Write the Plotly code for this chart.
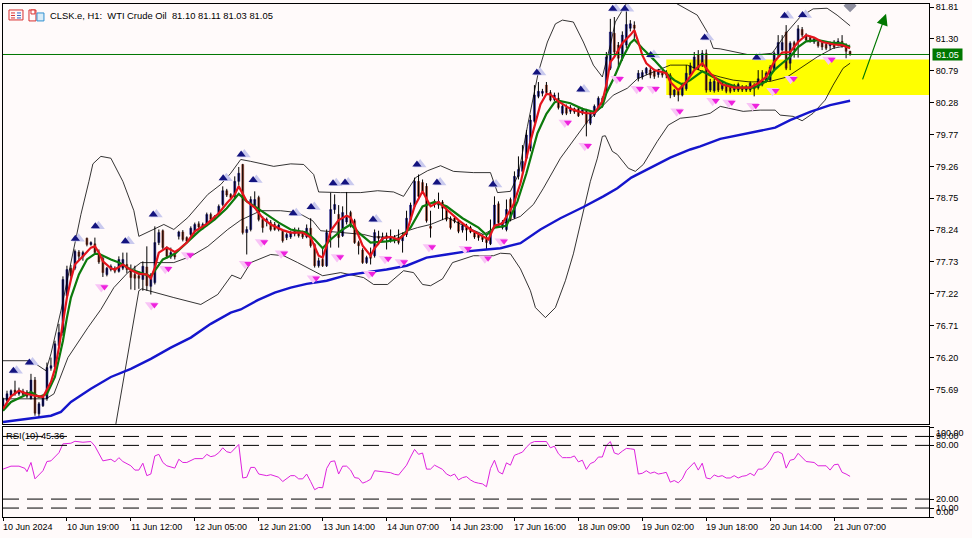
import plotly.graph_objects as go
from plotly.subplots import make_subplots

opens = [75.41,75.51,75.59,75.68,75.62,75.66,75.65,75.54,75.84,75.30,
75.43,75.54,76.03,76.05,76.39,76.60,77.19,77.63,77.63,77.89,
77.81,78.11,78.01,78.02,77.84,77.79,77.53,77.61,77.63,77.58,
77.63,77.69,77.61,77.53,77.51,77.45,77.65,77.34,77.40,78.04,
78.23,77.96,77.81,77.85,78.14,78.21,78.12,78.17,78.22,78.34,
78.28,78.33,78.49,78.42,78.49,78.65,78.87,78.81,78.78,79.02,
79.29,78.20,78.25,78.61,78.76,78.41,78.37,78.36,78.33,78.25,
78.22,78.12,78.13,78.18,78.20,78.20,78.13,78.27,78.01,77.67,
77.77,77.67,78.20,78.57,78.49,78.15,78.37,78.52,78.39,78.04,
77.92,77.72,77.84,77.83,78.14,78.09,78.15,78.08,78.07,78.13,
78.07,78.17,78.41,78.62,79.02,79.00,78.94,78.30,78.65,78.64,
78.69,78.57,78.43,78.43,78.38,78.24,78.31,78.28,78.20,78.17,
78.14,78.13,78.02,78.30,78.66,78.28,78.25,78.73,78.44,79.10,
79.18,79.39,79.55,79.98,80.38,80.43,80.56,80.44,80.33,80.35,
80.11,80.20,80.14,80.18,80.18,80.11,80.14,79.95,80.08,80.19,
80.35,80.46,80.83,81.39,81.20,80.99,81.20,81.47,81.52,80.67,
80.69,80.75,80.80,80.78,80.73,80.77,80.77,80.72,80.40,80.46,
80.40,80.50,80.72,80.83,81.04,80.88,81.07,80.48,80.47,80.61,
80.50,80.56,80.53,80.48,80.48,80.53,80.48,80.48,80.56,80.52,
80.64,80.62,80.64,80.80,81.04,81.12,81.41,80.91,81.24,81.25,
81.45,81.36,81.32,81.25,81.25,81.24,81.21,81.19,81.25,81.21,
81.26,81.20,81.10]
closes = [75.54,75.62,75.67,75.62,75.68,75.61,75.58,75.84,75.31,75.46,
75.57,76.04,76.07,76.42,76.60,77.45,77.61,77.51,77.90,77.82,
77.88,78.01,78.04,77.88,77.73,77.56,77.63,77.66,77.58,77.77,
77.77,77.61,77.48,77.47,77.47,77.66,77.35,77.50,78.04,78.20,
77.96,77.82,77.88,77.81,78.21,78.09,78.06,78.27,78.33,78.29,
78.33,78.49,78.41,78.46,78.62,78.87,78.80,78.76,79.02,79.15,
78.20,78.25,78.73,78.73,78.41,78.28,78.41,78.25,78.25,78.32,
78.07,78.17,78.20,78.22,78.15,78.13,78.27,77.99,77.67,77.75,
77.67,78.20,78.57,78.65,78.12,78.52,78.44,78.31,78.04,77.99,
77.72,77.80,77.79,78.20,78.11,78.13,78.11,78.12,78.10,78.04,
78.15,78.43,78.64,79.02,78.78,78.86,78.39,78.27,78.68,78.70,
78.59,78.41,78.28,78.38,78.22,78.31,78.24,78.21,78.13,78.12,
78.09,78.04,78.20,78.64,78.36,78.37,78.57,78.41,79.10,79.21,
79.34,79.76,80.00,80.40,80.46,80.46,80.44,80.32,80.40,80.20,
80.22,80.11,80.20,80.13,80.07,80.16,79.95,80.11,80.22,80.35,
80.24,81.01,81.41,81.09,80.99,81.36,81.53,81.54,81.47,80.75,
80.76,80.83,80.72,80.70,80.78,80.72,80.72,80.40,80.48,80.40,
80.56,80.75,80.87,81.01,80.83,81.07,80.48,80.61,80.62,80.48,
80.59,80.46,80.46,80.55,80.57,80.48,80.53,80.59,80.50,80.66,
80.56,80.75,80.85,81.07,81.24,81.24,80.83,81.23,81.12,81.46,
81.36,81.28,81.26,81.30,81.19,81.17,81.15,81.24,81.17,81.26,
81.20,81.10,81.05]
highs = [75.56,75.67,75.69,75.83,75.72,75.70,75.68,75.94,75.89,75.49,
75.60,76.12,76.20,76.47,76.74,77.50,77.67,77.68,77.93,77.92,
77.91,78.12,78.06,78.12,77.93,77.82,77.65,77.69,77.66,77.82,
77.88,77.88,77.69,77.67,77.58,77.74,77.98,77.55,78.30,78.25,
78.25,77.98,77.96,77.90,78.23,78.24,78.14,78.30,78.36,78.38,
78.36,78.52,78.52,78.48,78.65,78.94,78.90,78.83,79.10,79.25,
79.30,78.30,78.78,78.86,78.79,78.46,78.44,78.40,78.37,78.34,
78.25,78.20,78.23,78.28,78.28,78.23,78.33,78.43,78.03,77.80,
77.96,78.25,78.84,78.81,78.64,78.62,78.85,78.55,78.42,78.07,
77.95,77.83,77.96,78.25,78.23,78.20,78.20,78.25,78.16,78.25,
78.20,78.55,78.68,79.08,79.13,79.05,78.99,78.55,78.73,78.84,
78.72,78.60,78.46,78.46,78.40,78.34,78.34,78.31,78.22,78.19,
78.17,78.16,78.41,78.78,78.70,78.40,78.73,78.76,79.18,79.42,
79.60,79.84,80.08,80.56,80.61,80.50,80.61,80.48,80.44,80.44,
80.28,80.25,80.24,80.20,80.22,80.20,80.18,80.15,80.25,80.38,
80.38,81.09,81.62,81.65,81.25,81.42,81.78,81.60,81.58,80.80,
80.80,80.85,80.85,80.82,80.82,80.80,80.80,80.75,80.50,80.50,
80.60,80.88,80.92,81.09,81.12,81.12,81.13,80.66,80.66,80.65,
80.63,80.59,80.56,80.58,80.60,80.56,80.56,80.62,80.59,80.80,
80.80,80.78,80.88,81.10,81.36,81.36,81.52,81.26,81.27,81.52,
81.49,81.39,81.35,81.33,81.28,81.26,81.24,81.26,81.28,81.31,
81.36,81.23,81.11]
lows = [75.38,75.46,75.56,75.59,75.59,75.58,75.55,75.53,75.27,75.24,
75.41,75.51,75.99,76.02,76.35,76.55,77.15,77.45,77.60,77.76,
77.75,77.98,77.99,77.85,77.70,77.49,77.50,77.58,77.55,77.56,
77.60,77.55,77.29,77.28,77.30,77.27,77.27,77.21,77.37,78.00,
77.93,77.78,77.78,77.77,78.09,78.06,78.04,78.14,78.18,78.26,
78.25,78.30,78.38,78.40,78.47,78.62,78.77,78.73,78.75,78.95,
78.17,77.85,78.22,78.58,78.38,78.20,78.30,78.22,78.23,78.22,
78.04,78.08,78.10,78.14,78.12,78.10,78.11,77.96,77.64,77.64,
77.65,77.65,77.96,78.50,77.96,78.13,78.33,78.28,78.02,77.85,
77.70,77.70,77.69,77.80,78.00,78.05,77.93,78.04,78.03,78.01,
77.88,78.13,78.38,78.58,78.72,78.82,78.36,78.12,78.60,78.58,
78.40,78.38,78.25,78.35,78.19,78.20,78.07,78.19,78.10,78.07,
78.05,77.93,78.00,78.27,78.33,78.25,78.22,78.38,78.42,79.05,
79.12,79.35,79.50,79.95,80.35,80.38,80.40,80.30,80.30,80.17,
80.08,80.08,80.10,80.10,80.05,80.08,79.74,79.92,80.05,80.16,
80.20,80.43,80.80,81.00,80.85,80.95,81.15,81.42,81.30,80.62,
80.65,80.72,80.67,80.66,80.68,80.68,80.67,80.35,80.37,80.30,
80.38,80.47,80.70,80.80,80.80,80.85,80.44,80.45,80.44,80.45,
80.47,80.43,80.43,80.45,80.45,80.45,80.45,80.45,80.38,80.49,
80.54,80.60,80.62,80.78,81.00,81.10,80.80,80.80,81.00,81.00,
81.33,81.25,81.24,81.22,81.16,81.12,81.12,81.12,81.14,81.18,
81.16,80.99,81.03]

red_bars = [0,2,4,6,8,10,12,13,14,15,16,17,18,20,22,23,24,25,27,28,30,32,34,36,37,38,39,41,43,44,46,48,51,54,56,58,59,
61,63,65,67,70,72,75,77,79,80,81,82,84,86,87,88,90,92,93,95,97,99,101,103,105,107,109,111,114,117,120,121.5,123,125,127.75,129.5,132,134.5,136,
137,139,142,144,146,148,150,151,152,153,155,157,158,159,160,161,163,166,167,169,171,173,175,177,179,180,183,187,189,191,193,195,197,199,201,203,205,208,210,212]
red_vals = [75.38,75.58,75.67,75.62,75.59,75.57,75.81,76.02,76.36,76.74,77.16,77.45,77.69,77.82,77.96,77.98,77.88,77.74,77.63,77.61,77.69,77.60,77.54,77.53,77.47,77.64,77.88,77.96,77.89,77.93,78.04,78.22,78.34,78.51,78.67,78.81,78.94,
78.70,78.60,78.43,78.33,78.24,78.20,78.20,78.12,77.83,77.80,77.99,78.23,78.40,78.47,78.44,78.31,77.99,77.83,77.95,78.11,78.13,78.09,78.20,78.62,78.86,78.62,78.69,78.57,78.40,78.25,78.15,78.09,78.31,78.35,78.65,78.99,79.66,80.25,80.42,
80.41,80.30,80.18,80.14,80.11,80.11,80.30,80.56,80.93,81.01,81.23,81.36,81.44,81.25,81.04,80.91,80.80,80.75,80.61,80.48,80.61,80.80,80.91,80.75,80.62,80.57,80.52,80.52,80.59,80.69,80.93,81.08,81.09,81.25,81.36,81.32,81.25,81.21,81.20,81.15]
green_bars = [0,2,5,7,9,11,13,15,16,17,19,21,23,24,27,29,32,34,37,38,40,43,46,49,53,56,59,
61,63,66,69,72,76,78,80,82,85,87,89,92,96,99,102,105,108,111,115,119,121,123,126,128.75,131,133.75,136,138,
139,142,145,148,150,151,153,155,157,158,160,163,166,168,170,172,175,178,181,184,188,191,193,195,197,199,201,204,207,210,212]
green_vals = [75.35,75.49,75.58,75.65,75.57,75.62,75.89,76.47,76.84,77.16,77.53,77.77,77.86,77.86,77.77,77.72,77.61,77.57,77.50,77.59,77.77,77.86,78.04,78.22,78.41,78.59,78.82,
78.70,78.62,78.49,78.36,78.25,78.20,78.09,77.95,78.09,78.25,78.33,78.20,78.04,78.06,78.09,78.28,78.62,78.69,78.62,78.43,78.28,78.16,78.28,78.31,78.70,79.15,79.79,80.10,80.28,
80.31,80.27,80.18,80.13,80.22,80.43,80.69,80.99,81.23,81.29,81.15,80.96,80.75,80.64,80.57,80.64,80.78,80.68,80.59,80.52,80.52,80.62,80.80,80.91,81.01,81.17,81.26,81.28,81.24,81.23,81.17]
blue_bars = [0,12,14.5,17,22,27,32,37,42,47,52,57,59.5,63.75,68,72,76,81,86,91,96,101,106,111,116,121,124.5,129.5,134.5,139.5,145.25,150.25,153.75,157.25,167,172,174.5,179.5,184.5,189.5,193.25,197,202,207,212]
blue_vals = [75.17,75.27,75.33,75.49,75.70,75.89,76.02,76.18,76.36,76.52,76.74,76.92,76.97,77.12,77.24,77.32,77.38,77.43,77.52,77.56,77.61,77.67,77.80,77.85,77.90,77.93,77.95,78.03,78.25,78.43,78.61,78.78,78.91,79.08,79.40,79.53,79.58,79.70,79.77,79.83,79.88,80.00,80.13,80.24,80.31]

upper_bars = [0,3,7,10.75,12,14.5,17.5,19.5,21.5,22.5,24.5,27,30,32.75,34,38.75,40.25,42.75,46.25,51.25,54.5,57,59.5,62,67.75,72,75.25,77.75,79,84.5,89.5,93.75,97.75,100.25,103.25,106.25,109.5,112.75,117.75,122,123.75,127,129,131.25,134,136.25,138.25,140,142.75,145.25,147.75,150,152,153.25,156.25,162,169.5,173.75,176.25,177.75,179.5,182.75,186.25,189.5,192.5,196.25,199.5,202.75,206.25,208.75,212]
upper_vals = [76.15,76.15,76.15,75.99,76.26,76.95,77.90,78.49,79.02,79.30,79.42,79.39,79.02,78.55,78.14,78.28,78.33,78.25,78.44,78.81,78.97,79.15,79.37,79.34,79.26,79.30,79.29,79.13,78.85,78.84,78.84,78.87,78.85,78.78,79.08,79.19,79.27,79.18,79.16,79.16,78.84,78.86,79.13,79.90,80.77,81.25,81.54,81.60,81.57,81.25,80.88,80.69,81.20,81.57,81.89,82.10,81.84,81.68,81.41,81.15,81.14,81.10,81.05,81.05,81.07,81.41,81.65,81.78,81.79,81.68,81.51]
lower_bars = [24,28.25,34,34.75,42.75,46.25,49.5,53.75,55.25,57.25,59.5,62,67,70.25,73.75,77.75,80,84.5,90.25,92.75,96.25,100.25,102.75,105,107,110,112.5,117.75,122.75,124.5,127,129.5,132,133.25,135.75,138.25,140.75,142.75,145,147,148.75,150,150.75,152.5,153.75,156.5,158.25,160.25,163.75,166.5,169.5,173.75,177,179.5,185.25,189.5,193.25,194.5,197.75,200,202.75,205.75,207.75,210.25,212]
lower_vals = [74.20,75.14,77.27,77.30,77.16,77.10,77.05,77.21,77.35,77.52,77.46,77.72,77.85,77.83,77.72,77.59,77.51,77.56,77.48,77.37,77.37,77.59,77.56,77.37,77.35,77.46,77.72,77.83,77.83,77.87,77.86,77.62,77.27,77.00,76.84,77.00,77.43,77.86,78.46,79.02,79.39,79.74,79.75,79.50,79.45,79.23,79.18,79.29,79.66,79.92,80.03,80.06,80.11,80.22,80.14,80.16,80.16,80.08,80.06,79.99,80.11,80.32,80.56,80.83,80.91]
mid_bars = [0,10.75,12.75,16.25,21.25,24.5,27.75,31.25,34.5,42.75,47,51.25,56.25,59.5,64.5,69.5,73.75,77.5,79.5,85.25,90.25,92.75,97.75,101.25,103.75,107,111.25,116.25,120.25,124.5,126.25,129.5,132.75,135.25,139.5,142.5,146.25,149.5,152.75,156.25,158.75,162.75,167,171.25,176.25,179.5,182.75,187,192,196.25,199.5,203.75,207.75,212]
mid_vals = [75.54,75.54,75.62,76.20,76.68,76.97,77.32,77.56,77.72,77.72,77.82,77.98,78.25,78.40,78.55,78.55,78.52,78.39,78.23,78.20,78.17,78.13,78.13,78.23,78.28,78.33,78.44,78.28,78.17,78.33,78.38,78.46,78.65,78.91,79.39,79.66,79.98,80.19,80.40,80.51,80.66,80.77,80.88,80.88,80.75,80.69,80.64,80.61,80.62,80.69,80.83,81.01,81.15,81.20]

up_bars = [3,7,18.5,23.5,31,38,55.5,60,63,73,77.5,83,86,93,104,109,123,134,145,153,156,162.5,176,189,196,200.5]
up_vals = [75.99,76.12,78.10,78.30,78.06,78.49,79.07,79.45,79.04,78.51,78.61,78.99,79.00,78.41,79.29,79.00,78.97,80.76,80.49,81.78,81.78,81.04,81.32,81.00,81.67,81.68]
down_bars = [25,37.5,41,46.5,61,65,70,78,84,92,96,100,107,116,121,125,141,146,154,159,163,169,178,182,188,193,197.5,207]
down_vals = [77.33,77.04,77.62,77.84,77.70,78.05,77.87,77.47,77.81,77.54,77.78,77.73,77.97,77.94,77.79,78.06,79.96,79.59,80.66,80.50,80.50,80.14,80.31,80.28,80.23,80.47,80.66,80.97]

rsi_bars = [0,2,4,5.5,6,7,8,10,11,12,14,15,17,18,20,22,23,25,27,28,29,30,32,33,34,35,36,37,38,39,40,41,43,44,45,46,48,50,51,52,53,54,55,56,57,59,60,61,62,63,64,66,67,69,70,72,73,74,75,76,77,78,79,80,81,82,83,84,85,86,87,88,89,90,91,92,93,94,95,96,97,98,99,100,101,102,103,104,105,106,107,108,109,110,111,112,113,114,115,116,117,118,119,120,121,122,123,124,125,126,127,128,129,130,131,132,133,136,137,138,139,140,141,142,143,144,145,146,147,148,149,150,151,152,153,154,155,156,157,158,159,160,161,162,163,164,165,166,167,168,169,170,171,173,174,175,176,177,178,179,180,181,182,183,184,185,186,187,188,189,190,191,192,193,194,195,196,197,198,199,201,203,204,206,207,208,209,210,211,212]
rsi_vals = [53.5,56.8,56.8,54.3,50.6,60.9,42.6,51.7,62,62.7,71.8,81.7,82.4,84.6,83.5,84.3,79.2,62.7,64.5,61.6,66.3,62,57.2,52.4,52.4,60.1,46.2,48,68.2,70,60.9,57.2,54.6,64.5,60.9,60.9,65.2,65.2,70,67.4,68.5,71.8,77.3,72.9,71.8,81,43.6,44.4,55.4,55.4,48,46.2,47.3,44.4,39.6,46.2,46.2,42.6,42.6,48,39.6,30.5,33,32.7,54.2,61.9,62.7,48,56.8,56.8,52.4,44,43.3,37.8,39.6,42.2,51.7,51.3,50.6,50.6,49.5,47.7,46.9,52.4,57.9,67,75.5,70,71.5,53.5,53.5,57.9,56,53.2,48,45.8,48,41.4,44,45.1,41.4,38.9,37.8,37,33.8,54.2,63.4,50.6,48,60.5,57.9,68.9,70.7,72.5,78,82.4,84.3,84.3,77.3,79.1,70.7,66.3,66.3,66.3,68.2,61.6,63.4,53.2,59.7,61.6,67,67,79.9,84.3,71.5,70,73.6,76.6,76.2,75.5,48,48.8,51.7,48.8,50.2,48,48.8,49.9,38.9,40.7,38.2,42.6,51.7,60.9,52.4,60.1,43.6,42.6,46.9,45.1,46.2,43.6,43.6,46.2,43.6,45.5,46.2,48.8,46.2,53.5,53.5,57.2,63.4,71.8,72.9,70.7,54.6,63.4,64.5,71.1,62,60.9,57.2,57.2,52.4,58.3,59,49.9,48,45.36]

time_ticks = [0,16,32,48,64,80,96,112,128,144,160,176,192,208]
time_labels = ["10 Jun 2024","10 Jun 19:00","11 Jun 12:00","12 Jun 05:00","12 Jun 21:00","13 Jun 14:00","14 Jun 07:00","14 Jun 23:00","17 Jun 16:00","18 Jun 09:00","19 Jun 02:00","19 Jun 18:00","20 Jun 14:00","21 Jun 07:00"]
price_ticks = [81.81,81.30,80.79,80.28,79.77,79.26,78.75,78.24,77.73,77.22,76.71,76.20,75.69]
rsi_levels = [100,90,80,20,10,0]
dash_levels = [90,80,20,10]
last_price = 81.05
zone_low, zone_high = 80.40, 80.97
zone_start = 166

BG = "#FFFAFA"
FONT = "Liberation Sans"
PW, PH = 927, 515
px = lambda v: (v - 2) / PW
py = lambda v: (517 - v) / PH

fig = make_subplots(rows=2, cols=1, shared_xaxes=True)

bars = list(range(len(closes)))
wx, wy = [], []
for b, h, l in zip(bars, highs, lows):
    wx += [b, b, None]
    wy += [l, h, None]

def line(x, y, color, width, row=1):
    fig.add_trace(go.Scatter(x=x, y=y, mode="lines", line=dict(color=color, width=width), hoverinfo="skip"), row=row, col=1)

line(mid_bars, mid_vals, "#000000", 0.8)
line(upper_bars, upper_vals, "#000000", 0.8)
line(lower_bars, lower_vals, "#000000", 0.8)
line(wx, wy, "#000000", 1)
fig.add_trace(go.Candlestick(
    x=bars, open=opens, close=closes,
    high=[max(o, c) for o, c in zip(opens, closes)],
    low=[min(o, c) for o, c in zip(opens, closes)],
    increasing=dict(line=dict(color="#14147F", width=0.5), fillcolor="#14147F"),
    decreasing=dict(line=dict(color="#8E3B26", width=0.5), fillcolor="#8E3B26"),
    hoverinfo="skip"), row=1, col=1)
line(blue_bars, blue_vals, "#1515CC", 2.4)
line(green_bars, green_vals, "#0C7A0C", 2.2)
line(red_bars, red_vals, "#E4141C", 2.2)

def markers(x, y, symbol, size, color):
    fig.add_trace(go.Scatter(x=x, y=y, mode="markers", marker=dict(symbol=symbol, size=size, color=color), hoverinfo="skip"), row=1, col=1)

markers([b + 0.4 for b in up_bars], up_vals, "triangle-up", 11, "#C9C9EE")
markers([b - 0.4 for b in up_bars], up_vals, "triangle-up", 8, "#14147F")
markers([b - 0.4 for b in down_bars], down_vals, "triangle-down", 11, "#F9C4F6")
markers([b + 0.4 for b in down_bars], down_vals, "triangle-down", 7, "#EE22DD")
fig.add_trace(go.Scatter(x=[212], y=[81.83], mode="markers", marker=dict(symbol="diamond", size=10, color="#8E8E9E"), hoverinfo="skip"), row=1, col=1)

line(rsi_bars, rsi_vals, "#DD22DD", 1, row=2)

fig.add_shape(type="rect", xref="x", yref="y", x0=zone_start, x1=231.75, y0=zone_low, y1=zone_high,
              fillcolor="#FFFF00", line_width=0, layer="below")
fig.add_shape(type="line", xref="x", yref="y", x0=0, x1=231.75, y0=last_price, y1=last_price,
              line=dict(color="#007700", width=1))
for lv in dash_levels:
    fig.add_shape(type="line", xref="x2", yref="y2", x0=0, x1=231.75, y0=lv, y1=lv,
                  line=dict(color="#000000", width=1, dash="16px,8px"))

# header icons
def rect(x0, y0, x1, y1, color, fill=None):
    fig.add_shape(type="rect", xref="paper", yref="paper", x0=px(x0), x1=px(x1), y0=py(y1), y1=py(y0),
                  line=dict(color=color, width=1), fillcolor=fill or "rgba(0,0,0,0)")
rect(8, 8, 22, 18, "#D83030")
for yy in (11, 13.5, 16):
    fig.add_shape(type="line", xref="paper", yref="paper", x0=px(10), x1=px(14), y0=py(yy), y1=py(yy), line=dict(color="#D83030", width=1))
    fig.add_shape(type="line", xref="paper", yref="paper", x0=px(16), x1=px(20), y0=py(yy), y1=py(yy), line=dict(color="#3060C0", width=1))
rect(28, 8, 35, 19, "#D83030")
rect(36, 11, 43, 19, "#3090D0", "#D8ECF8")
rect(30, 8, 34, 12, "#D83030", "#FFFFFF")

def note(text, x, y, size=9.4, **kw):
    fig.add_annotation(text=text, xref="paper", yref="paper", x=px(x), y=py(y), showarrow=False,
                       xanchor="left", yanchor="middle", borderpad=0, xshift=-1,
                       font=dict(family=FONT, size=size, color="#000000"), **kw)

note("CLSK.e, H1:\u00a0\u00a0WTI Crude Oil\u00a0\u00a081.10 81.11 81.03 81.05", 49, 13.5)
note("RSI(10) 45.36", 5, 435.5)
for t, lab in zip(time_ticks, time_labels):
    fig.add_annotation(text=lab, xref="x2", yref="paper", x=t, y=py(527), showarrow=False, xanchor="left",
                       yanchor="middle", borderpad=0, xshift=-1, font=dict(family=FONT, size=9, color="#000000"))
for lv, shift in zip(rsi_levels, (-6, 0, 0, 0, 0, 5)):
    fig.add_annotation(text=f"{lv:.2f}", xref="paper", yref="y2", x=1, y=lv, xshift=5, yshift=shift, showarrow=False,
                       xanchor="left", yanchor="middle", font=dict(family=FONT, size=9, color="#000000"))
fig.add_annotation(text=f"{last_price:.2f}", xref="paper", yref="y", x=px(932), y=last_price, showarrow=False,
                   xanchor="left", yanchor="middle", width=29, height=11, align="center", bgcolor="#007700",
                   borderpad=0, font=dict(family=FONT, size=9, color="#FFFFFF"))
fig.add_annotation(x=221, y=81.70, ax=-24, ay=67, xref="x", yref="y", axref="pixel", ayref="pixel", showarrow=True,
                   arrowhead=2, arrowsize=1.9, arrowwidth=1.2, arrowcolor="#007700", text="")

axis = dict(showgrid=False, zeroline=False, showline=True, mirror=True, linecolor="#000000", linewidth=1, range=[0, 231.75])
fig.update_xaxes(**axis)
fig.update_xaxes(row=1, col=1, showticklabels=False, ticks="", rangeslider_visible=False)
fig.update_xaxes(row=2, col=1, tickmode="array", tickvals=time_ticks, ticktext=[""] * len(time_ticks),
                 ticks="outside", ticklen=3, tickcolor="#000000", rangeslider_visible=False)
fig.update_yaxes(showgrid=False, zeroline=False, showline=True, mirror=True, linecolor="#000000", linewidth=1, side="right")
fig.update_yaxes(row=1, col=1, domain=[0.1804, 1], range=[75.13, 81.858], tickmode="array", tickvals=price_ticks,
                 ticktext=[f"{p:.2f}" for p in price_ticks], ticks="outside", ticklen=4, tickcolor="#000000",
                 tickfont=dict(family=FONT, size=9, color="#000000"))
fig.update_yaxes(row=2, col=1, domain=[0, 0.1745], range=[0, 100], tickmode="array", tickvals=rsi_levels,
                 showticklabels=False, ticks="outside", ticklen=4, tickcolor="#000000")
fig.update_layout(width=972, height=538, margin=dict(l=2, r=43, t=2, b=21), showlegend=False,
                  plot_bgcolor=BG, paper_bgcolor=BG, font=dict(family=FONT, size=9, color="#000000"))
fig.write_html("out.html", config={"displayModeBar": False},
               post_script="document.body.style.margin='0';document.body.style.overflow='hidden';")
